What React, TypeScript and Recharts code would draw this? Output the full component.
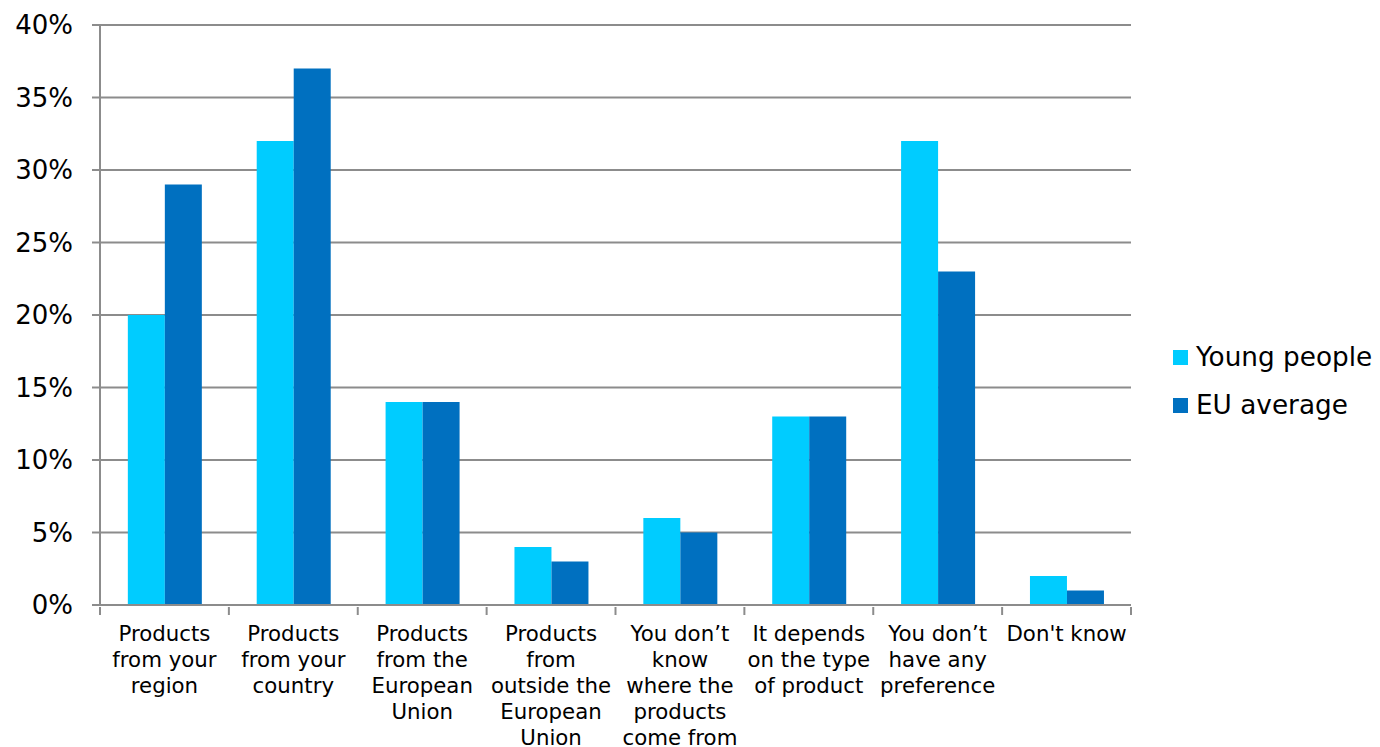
import {
  Bar,
  BarChart,
  CartesianGrid,
  XAxis,
  YAxis,
} from "recharts";

// answer options, "\n" marks where each label wraps
const categories = [
  "Products\nfrom your\nregion",
  "Products\nfrom your\ncountry",
  "Products\nfrom the\nEuropean\nUnion",
  "Products\nfrom\noutside the\nEuropean\nUnion",
  "You don’t\nknow\nwhere the\nproducts\ncome from",
  "It depends\non the type\nof product",
  "You don’t\nhave any\npreference",
  "Don't know",
];

const youngPeople = [20, 32, 14, 4, 6, 13, 32, 2];
const euAverage = [29, 37, 14, 3, 5, 13, 23, 1];

const yTicks = [0, 5, 10, 15, 20, 25, 30, 35, 40];

const seriesNames = ["Young people", "EU average"];
const colors = ["#00CCFF", "#0070C0"];

const data = categories.map((name, i) => ({
  name,
  young: youngPeople[i],
  eu: euAverage[i],
}));

const FONT = "'DejaVu Sans', Verdana, sans-serif";
const AXIS_GRAY = "#8c8c8c";

const CategoryTick = (props: any) => {
  const { x, y, payload, index, width } = props;
  const lines: string[] = String(payload.value).split("\n");
  const half = payload.offset ?? width / categories.length / 2;
  const isLast = index === categories.length - 1;
  return (
    <g>
      {/* tick marks sit on the category boundaries */}
      <line x1={x - half} x2={x - half} y1={y} y2={y + 8} stroke={AXIS_GRAY} strokeWidth={2} />
      {isLast && (
        <line x1={x + half} x2={x + half} y1={y} y2={y + 8} stroke={AXIS_GRAY} strokeWidth={2} />
      )}
      <text x={x} y={y + 34} textAnchor="middle" fontSize={21.3} fontFamily={FONT} fill="#000">
        {lines.map((line, i) => (
          <tspan key={i} x={x} dy={i === 0 ? 0 : 26}>
            {line}
          </tspan>
        ))}
      </text>
    </g>
  );
};

const LegendBox = () => (
  <div
    style={{
      position: "absolute",
      left: 1165,
      top: 325,
      fontFamily: FONT,
      fontSize: 26.3,
      color: "#000",
      whiteSpace: "nowrap",
    }}
  >
    {seriesNames.map((n, i) => (
      <div key={n} style={{ display: "flex", alignItems: "center", height: 48 }}>
        <span
          style={{
            width: 15,
            height: 15,
            background: colors[i],
            display: "inline-block",
            marginRight: 8,
            flexShrink: 0,
          }}
        />
        <span>{n}</span>
      </div>
    ))}
  </div>
);

export default function App() {
  return (
    <div style={{ position: "relative", width: 1372, height: 739 }}>
      <BarChart
        width={1372}
        height={739}
        data={data}
        margin={{ top: 17, right: 249, left: 0, bottom: 0 }}
        barCategoryGap="21.6%"
        barGap={0}
      >
        <CartesianGrid vertical={false} stroke={AXIS_GRAY} strokeWidth={2} />
        <XAxis
          dataKey="name"
          height={142}
          interval={0}
          tickLine={false}
          tickSize={0}
          axisLine={{ stroke: AXIS_GRAY, strokeWidth: 2 }}
          tick={<CategoryTick />}
        />
        <YAxis
          width={92}
          domain={[0, 40]}
          ticks={yTicks}
          interval={0}
          tickFormatter={(v) => `${v}%`}
          tickSize={8}
          tickMargin={19}
          tickLine={{ stroke: AXIS_GRAY, strokeWidth: 2 }}
          axisLine={{ stroke: AXIS_GRAY, strokeWidth: 2 }}
          tick={{ fontSize: 26, fontFamily: FONT, fill: "#000" }}
        />
        <Bar dataKey="young" name={seriesNames[0]} fill={colors[0]} isAnimationActive={false} />
        <Bar dataKey="eu" name={seriesNames[1]} fill={colors[1]} isAnimationActive={false} />
      </BarChart>
      <LegendBox />
    </div>
  );
}
